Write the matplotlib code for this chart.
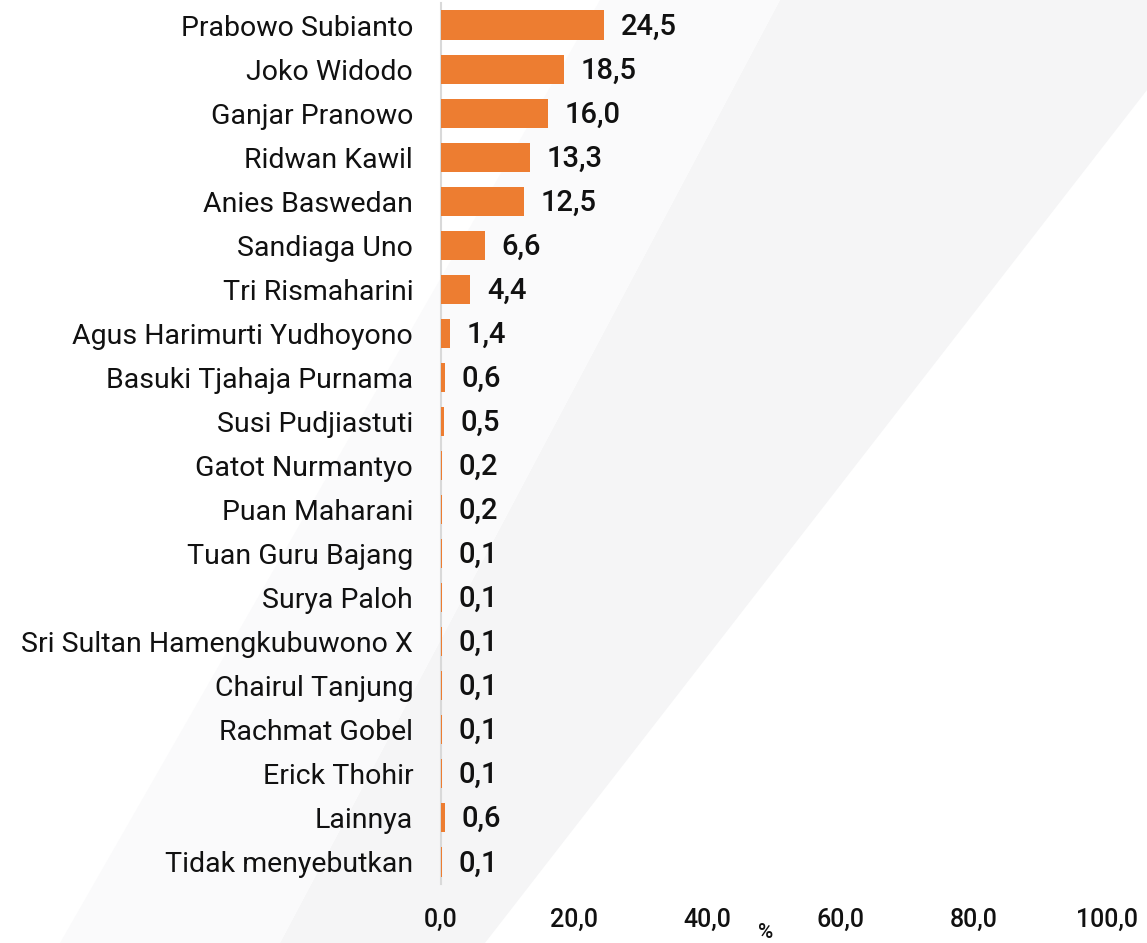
import matplotlib.pyplot as plt
from matplotlib.patches import Polygon

# Data
tokoh = [
    "Prabowo Subianto", "Joko Widodo", "Ganjar Pranowo", "Ridwan Kawil",
    "Anies Baswedan", "Sandiaga Uno", "Tri Rismaharini",
    "Agus Harimurti Yudhoyono", "Basuki Tjahaja Purnama", "Susi Pudjiastuti",
    "Gatot Nurmantyo", "Puan Maharani", "Tuan Guru Bajang", "Surya Paloh",
    "Sri Sultan Hamengkubuwono X", "Chairul Tanjung", "Rachmat Gobel",
    "Erick Thohir", "Lainnya", "Tidak menyebutkan",
]
persen = [24.5, 18.5, 16.0, 13.3, 12.5, 6.6, 4.4, 1.4, 0.6, 0.5,
          0.2, 0.2, 0.1, 0.1, 0.1, 0.1, 0.1, 0.1, 0.6, 0.1]
xticks = [0, 20, 40, 60, 80, 100]

W, H = 1147, 943
plt.rcParams['font.family'] = ['Roboto', 'DejaVu Sans']

fig = plt.figure(figsize=(W / 100, H / 100), dpi=100)

# latar belakang: bidang abu-abu miring (di belakang grafik)
bg = fig.add_axes([0, 0, 1, 1], zorder=-1)
bg.set_xlim(0, W)
bg.set_ylim(H, 0)
bg.axis('off')
bg.add_patch(Polygon([(780, 0), (1147, 0), (1147, 90), (485, 943), (280, 943)],
                     closed=True, facecolor='#f5f5f6', edgecolor='none'))
bg.add_patch(Polygon([(600, 0), (780, 0), (280, 943), (60, 943)],
                     closed=True, facecolor='#fafafb', edgecolor='none'))

ax = fig.add_axes([441 / W, 1 - 884 / H, (1107 - 441) / W, (884 - 3) / H])
ax.patch.set_alpha(0)

y = list(range(len(tokoh)))
ax.barh(y, persen, height=0.66, color='#ED7D31', zorder=3)

for yi, v in zip(y, persen):
    ax.annotate(f"{v:.1f}".replace('.', ','), (v, yi), xytext=(12, -1),
                textcoords='offset points', ha='left', va='center',
                fontsize=21, color='#111111', fontweight='medium')

ax.set_xlim(0, 100)
ax.set_ylim(len(tokoh) - 0.5, -0.5)
ax.set_yticks(y)
ax.set_yticklabels(tokoh, fontsize=20.5, color='#111111')
ax.set_xticks(xticks)
ax.set_xticklabels([f"{t:.1f}".replace('.', ',') for t in xticks],
                   fontsize=18, color='#111111', fontweight='medium')
ax.tick_params(axis='y', length=0, pad=20)
ax.tick_params(axis='x', length=0, pad=17)

for s in ['top', 'right', 'bottom']:
    ax.spines[s].set_visible(False)
ax.spines['left'].set_color('#d9d9d9')
ax.spines['left'].set_linewidth(1.5)

fig.text(766 / W, 1 - 933 / H, '%', ha='center', va='center',
         fontsize=15, color='#111111', fontweight='medium')

fig.savefig('out.png', dpi=100)
